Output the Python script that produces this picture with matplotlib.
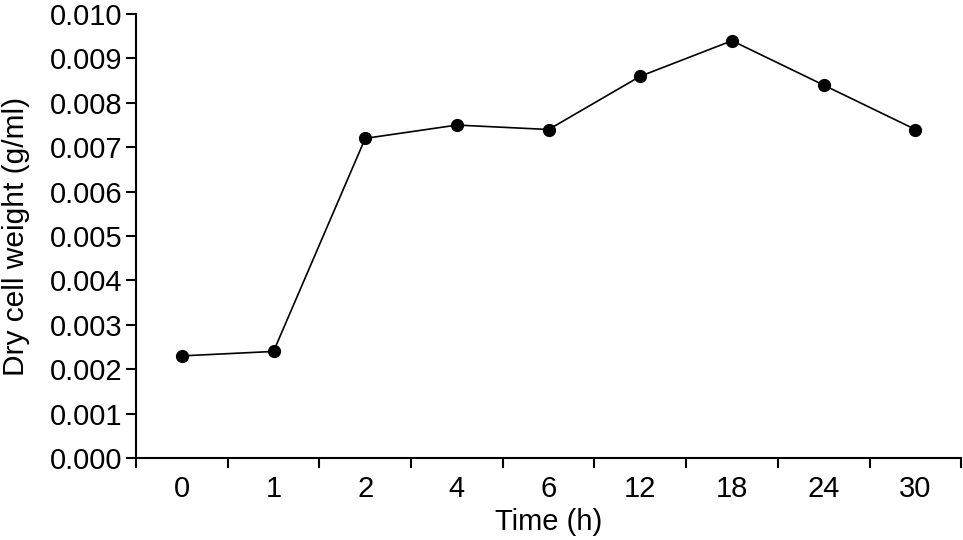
import matplotlib.pyplot as plt
import numpy as np

plt.rcParams['font.family'] = ['Liberation Sans', 'DejaVu Sans']

time_labels = ["0", "1", "2", "4", "6", "12", "18", "24", "30"]
dry_weight = [0.0023, 0.0024, 0.0072, 0.0075, 0.0074, 0.0086, 0.0094, 0.0084, 0.0074]

fig = plt.figure(figsize=(9.63, 5.4), dpi=100)
ax = fig.add_axes([0.1412, 0.1519, 0.857, 0.822])

x = np.arange(len(time_labels))
ax.plot(x, dry_weight, color='black', linewidth=1.2, marker='o', markersize=8.5)

ax.set_xlim(-0.5, len(time_labels) - 0.5)
ax.set_ylim(0, 0.010)
ax.set_yticks(np.arange(0, 0.0101, 0.001))
ax.set_yticklabels([f"{v:.3f}" for v in np.arange(0, 0.0101, 0.001)])

# boundary ticks unlabeled, labels centred on categories
ax.set_xticks(np.arange(-0.5, len(time_labels), 1.0))
ax.set_xticklabels([])
ax.set_xticks(x, minor=True)
ax.set_xticklabels(time_labels, minor=True)
ax.tick_params(axis='x', which='minor', length=0, labelsize=21, pad=12)
ax.tick_params(axis='x', which='major', length=7, width=1.5, direction='out')
ax.tick_params(axis='y', length=7, width=1.5, direction='out', labelsize=21, pad=3)

for side in ['top', 'right']:
    ax.spines[side].set_visible(False)
for side in ['left', 'bottom']:
    ax.spines[side].set_linewidth(1.5)

ax.set_xlabel("Time (h)", fontsize=21, labelpad=4)
ax.set_ylabel("Dry cell weight (g/ml)", fontsize=21.5, labelpad=14)

fig.savefig("out.png", dpi=100)
